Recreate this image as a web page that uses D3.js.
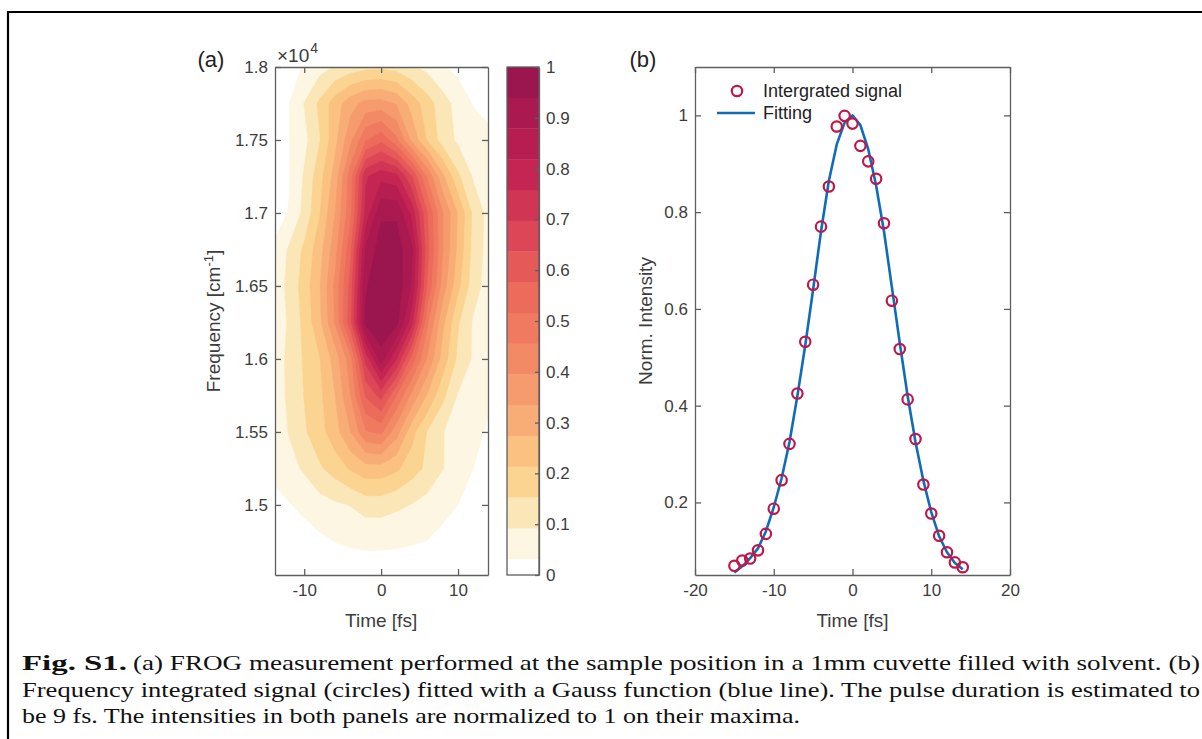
<!DOCTYPE html>
<html><head><meta charset="utf-8">
<script src="https://cdn.jsdelivr.net/npm/d3@7"></script>
<style>
body{margin:0;background:#fff}
svg{display:block}
.sans{font-family:'Liberation Sans',Arial,Helvetica,sans-serif}
.serif{font-family:'Liberation Serif','Times New Roman',serif}
</style>
</head><body>
<svg id="chart" width="1202" height="739"></svg>
<script>
// ---------------- DATA ----------------
// Panel (a): FROG trace, read on a coarse grid (time columns x frequency rows)
const frogTimes = [-14,-12,-10,-8,-6,-4,-2,0,2,4,6,8,10,12,14];           // fs
const frogFreqs = [18000,17750,17500,17250,17000,16750,16500,16250,16000,15750,15500,15250,15000,14750,14500]; // cm^-1
const row18000 = [0.0,0.015,0.036,0.07,0.098,0.12,0.135,0.14,0.13,0.10,0.075,0.038,0.015,0.005,0.0];
const row17750 = [0.005,0.03,0.095,0.165,0.245,0.31,0.355,0.36,0.33,0.25,0.18,0.12,0.07,0.028,0.01];
const row17500 = [0.01,0.03,0.075,0.15,0.255,0.38,0.51,0.56,0.47,0.32,0.21,0.125,0.082,0.065,0.05];
const row17250 = [0.01,0.028,0.10,0.19,0.30,0.49,0.75,0.80,0.78,0.64,0.45,0.29,0.165,0.085,0.05];
const row17000 = [0.005,0.035,0.11,0.21,0.335,0.50,0.78,0.93,0.93,0.80,0.58,0.40,0.27,0.14,0.07];
const row16750 = [0.04,0.10,0.165,0.25,0.37,0.56,0.89,0.97,0.97,0.89,0.60,0.40,0.26,0.13,0.07];
const row16500 = [0.05,0.11,0.18,0.27,0.41,0.60,0.93,1.0,0.98,0.87,0.57,0.37,0.23,0.12,0.065];
const row16250 = [0.05,0.10,0.17,0.26,0.40,0.62,0.96,0.99,0.96,0.78,0.47,0.29,0.16,0.085,0.05];
const row16000 = [0.05,0.11,0.16,0.21,0.30,0.43,0.72,0.91,0.76,0.55,0.39,0.25,0.14,0.085,0.05];
const row15750 = [0.04,0.11,0.155,0.20,0.274,0.395,0.585,0.66,0.516,0.38,0.27,0.17,0.088,0.06,0.04];
const row15500 = [0.06,0.095,0.145,0.19,0.25,0.334,0.45,0.47,0.36,0.235,0.15,0.095,0.07,0.047,0.025];
const row15250 = [0.05,0.075,0.10,0.145,0.18,0.22,0.25,0.25,0.225,0.18,0.14,0.095,0.065,0.032,0.01];
const row15000 = [0.01,0.028,0.05,0.068,0.083,0.095,0.12,0.12,0.105,0.09,0.07,0.05,0.032,0.005,0.0];
const row14750 = [0.0,0.0,0.0,0.02,0.033,0.038,0.04,0.04,0.039,0.036,0.031,0.015,0.0,0.0,0.0];
const row14500 = [0.0,0.0,0.0,0.0,0.0,0.005,0.008,0.008,0.005,0.0,0.0,0.0,0.0,0.0,0.0];
const frogRows = [row18000,row17750,row17500,row17250,row17000,row16750,row16500,row16250,
                  row16000,row15750,row15500,row15250,row15000,row14750,row14500];

// contour levels (filled contours) and colormap bands (band 0 = below first level)
const contourLevels = [0.032,0.0925,0.153,0.2135,0.274,0.3345,0.395,0.4555,0.516,0.5765,0.637,0.6975,0.758,0.8185,0.879,0.9395];
const bandColors = ['#ffffff','#fdf6e3','#fbe6b7','#fcd492','#fbc180','#f9ad76','#f69b6e','#f38a66',
                    '#f07a60','#ec6b5b','#e55a58','#dc4656','#d03654','#c42552','#b71d51','#aa1950','#9b154e'];

const aTimeTicks = [-10,0,10];
const aFreqTicks = [15000,15500,16000,16500,17000,17500,18000];
const cbTicks = [0,0.1,0.2,0.3,0.4,0.5,0.6,0.7,0.8,0.9,1];

// Panel (b)
const sigTimes  = [-15,-14,-13,-12,-11,-10,-9,-8,-7,-6,-5,-4,-3,-2,-1,0,1,2,3,4,5,6,7,8,9,10,11,12,13,14];
const sigValues = [0.069,0.080,0.084,0.101,0.135,0.187,0.246,0.321,0.425,0.532,0.650,0.770,0.853,0.977,0.999,
                   0.983,0.937,0.905,0.869,0.777,0.617,0.517,0.413,0.331,0.237,0.177,0.131,0.097,0.076,0.066];
const fitTimes  = [-15,-14,-13,-12,-11,-10,-9,-8,-7,-6,-5,-4,-3,-2,-1,0,1,2,3,4,5,6,7,8,9,10,11,12,13,14];
const fitValues = [0.055,0.068,0.085,0.105,0.14,0.19,0.25,0.325,0.42,0.525,0.64,0.76,0.865,0.94,0.985,
                   1.0,0.98,0.93,0.855,0.76,0.645,0.53,0.42,0.325,0.245,0.18,0.13,0.097,0.075,0.062];
const bTimeTicks = [-20,-10,0,10,20];
const bIntTicks = [0.2,0.4,0.6,0.8,1];

const captionLines = [
  "(a) FROG measurement performed at the sample position in a 1mm cuvette filled with solvent. (b)",
  "Frequency integrated signal (circles) fitted with a Gauss function (blue line). The pulse duration is estimated to",
  "be 9 fs. The intensities in both panels are normalized to 1 on their maxima."
];

// ---------------- DRAW ----------------
const svg = d3.select('#chart');
const AX = '#5f5f5f', TX = '#3d3d3d';

// outer frame
svg.append('path').attr('d','M8,739 L8,12 L1202,12').attr('fill','none').attr('stroke','#000').attr('stroke-width',2.2);

function styleAxis(g){
  g.selectAll('path').attr('stroke',AX).attr('stroke-width',1.3);
  g.selectAll('line').attr('stroke',AX).attr('stroke-width',1.3);
  g.selectAll('text').attr('fill',TX).attr('class','sans').style('font-size','17px');
}

// ---- Panel (a)
const aBox = {l:275,r:488,t:67,b:575};
const xA = d3.scaleLinear().domain([-13.8,13.9]).range([aBox.l,aBox.r]);
const yA = d3.scaleLinear().domain([14520,18000]).range([aBox.b,aBox.t]);

svg.append('clipPath').attr('id','clipA').append('rect')
  .attr('x',aBox.l).attr('y',aBox.t).attr('width',aBox.r-aBox.l).attr('height',aBox.b-aBox.t);

const nx = frogTimes.length, ny = frogFreqs.length;
const dt = frogTimes[1]-frogTimes[0], df = frogFreqs[0]-frogFreqs[1];
const values = [];
frogRows.forEach(r => r.forEach(v => values.push(v)));
const contours = d3.contours().size([nx,ny]).thresholds(contourLevels)(values);
const proj = d3.geoTransform({point:function(gx,gy){
  this.stream.point(xA(frogTimes[0] + (gx-0.5)*dt), yA(frogFreqs[0] - (gy-0.5)*df));
}});
const gpath = d3.geoPath(proj);
const gA = svg.append('g').attr('clip-path','url(#clipA)');
gA.append('rect').attr('x',aBox.l).attr('y',aBox.t).attr('width',aBox.r-aBox.l).attr('height',aBox.b-aBox.t).attr('fill',bandColors[0]);
gA.selectAll('path.ct').data(contours).join('path').attr('class','ct')
  .attr('d',gpath).attr('fill',(d,i)=>bandColors[i+1]).attr('stroke',(d,i)=>bandColors[i+1]).attr('stroke-width',0.3);

// axes (a)
const tick = 6;
const fmtNum = d => String(d);
let g;
g = svg.append('g').attr('transform',`translate(0,${aBox.b})`)
  .call(d3.axisBottom(xA).tickValues(aTimeTicks).tickSize(-tick).tickSizeOuter(0).tickPadding(9).tickFormat(fmtNum));
styleAxis(g);
g = svg.append('g').attr('transform',`translate(0,${aBox.t})`)
  .call(d3.axisTop(xA).tickValues(aTimeTicks).tickSize(-tick).tickSizeOuter(0).tickFormat(''));
styleAxis(g);
g = svg.append('g').attr('transform',`translate(${aBox.l},0)`)
  .call(d3.axisLeft(yA).tickValues(aFreqTicks).tickSize(-tick).tickSizeOuter(0).tickPadding(7).tickFormat(d=>String(d/1e4)));
styleAxis(g);
g = svg.append('g').attr('transform',`translate(${aBox.r},0)`)
  .call(d3.axisRight(yA).tickValues(aFreqTicks).tickSize(-tick).tickSizeOuter(0).tickFormat(''));
styleAxis(g);

// exponent label
const ex = svg.append('text').attr('class','sans').attr('x',277).attr('y',62).attr('fill',TX).style('font-size','19px');
ex.append('tspan').text('\u00d710');
ex.append('tspan').attr('dy',-9).attr('dx',1).style('font-size','14px').text('4');

svg.append('text').attr('class','sans').attr('x',xA(0)).attr('y',627).attr('text-anchor','middle')
  .attr('fill',TX).style('font-size','19px').text('Time [fs]');
const yl = svg.append('text').attr('class','sans').attr('transform','translate(220,321) rotate(-90)')
  .attr('text-anchor','middle').attr('fill',TX).style('font-size','19px');
yl.append('tspan').text('Frequency [cm');
yl.append('tspan').attr('dy',-7).style('font-size','13px').text('-1');
yl.append('tspan').attr('dy',7).text(']');

svg.append('text').attr('class','sans').attr('x',211).attr('y',67).attr('text-anchor','middle')
  .attr('fill','#222').style('font-size','22px').text('(a)');

// ---- Colorbar
const cbBox = {l:507,r:539,t:67,b:575};
const yC = d3.scaleLinear().domain([0,1]).range([cbBox.b,cbBox.t]);
const bandEdges = [0].concat(contourLevels).concat([1]);
svg.append('g').selectAll('rect').data(bandColors).join('rect')
  .attr('x',cbBox.l).attr('width',cbBox.r-cbBox.l)
  .attr('y',(c,i)=>yC(bandEdges[i+1])).attr('height',(c,i)=>yC(bandEdges[i])-yC(bandEdges[i+1])+0.3)
  .attr('fill',c=>c);
svg.append('rect').attr('x',cbBox.l).attr('y',cbBox.t).attr('width',cbBox.r-cbBox.l).attr('height',cbBox.b-cbBox.t)
  .attr('fill','none').attr('stroke',AX).attr('stroke-width',1.3);
g = svg.append('g').attr('transform',`translate(${cbBox.r},0)`)
  .call(d3.axisRight(yC).tickValues(cbTicks).tickSize(-4).tickSizeOuter(0).tickPadding(7).tickFormat(fmtNum));
styleAxis(g);

// ---- Panel (b)
const bBox = {l:695,r:1010,t:67,b:575};
const xB = d3.scaleLinear().domain([-20,20]).range([bBox.l,bBox.r]);
const yB = d3.scaleLinear().domain([0.05,1.1]).range([bBox.b,bBox.t]);
svg.append('clipPath').attr('id','clipB').append('rect')
  .attr('x',bBox.l).attr('y',bBox.t).attr('width',bBox.r-bBox.l).attr('height',bBox.b-bBox.t);

g = svg.append('g').attr('transform',`translate(0,${bBox.b})`)
  .call(d3.axisBottom(xB).tickValues(bTimeTicks).tickSize(-tick).tickSizeOuter(0).tickPadding(9).tickFormat(fmtNum));
styleAxis(g);
g = svg.append('g').attr('transform',`translate(0,${bBox.t})`)
  .call(d3.axisTop(xB).tickValues(bTimeTicks).tickSize(-tick).tickSizeOuter(0).tickFormat(''));
styleAxis(g);
g = svg.append('g').attr('transform',`translate(${bBox.l},0)`)
  .call(d3.axisLeft(yB).tickValues(bIntTicks).tickSize(-tick).tickSizeOuter(0).tickPadding(7).tickFormat(fmtNum));
styleAxis(g);
g = svg.append('g').attr('transform',`translate(${bBox.r},0)`)
  .call(d3.axisRight(yB).tickValues(bIntTicks).tickSize(-tick).tickSizeOuter(0).tickFormat(''));
styleAxis(g);

const gB = svg.append('g').attr('clip-path','url(#clipB)');
const fitPts = fitTimes.map((t,i)=>[t,fitValues[i]]);
gB.append('path').datum(fitPts)
  .attr('d',d3.line().x(d=>xB(d[0])).y(d=>yB(d[1])))
  .attr('fill','none').attr('stroke','#0f6db8').attr('stroke-width',2.6).attr('stroke-linejoin','round');
const sigPts = sigTimes.map((t,i)=>[t,sigValues[i]]);
svg.append('g').selectAll('circle').data(sigPts).join('circle')
  .attr('cx',d=>xB(d[0])).attr('cy',d=>yB(d[1])).attr('r',5.2)
  .attr('fill','none').attr('stroke','#c0174b').attr('stroke-width',2.2);

svg.append('text').attr('class','sans').attr('x',xB(0)).attr('y',627).attr('text-anchor','middle')
  .attr('fill',TX).style('font-size','19px').text('Time [fs]');
svg.append('text').attr('class','sans').attr('transform','translate(652,321) rotate(-90)')
  .attr('text-anchor','middle').attr('fill',TX).style('font-size','19px').text('Norm. Intensity');
svg.append('text').attr('class','sans').attr('x',643).attr('y',67).attr('text-anchor','middle')
  .attr('fill','#222').style('font-size','22px').text('(b)');

// legend
svg.append('circle').attr('cx',737).attr('cy',91).attr('r',5.2).attr('fill','none').attr('stroke','#c0174b').attr('stroke-width',2.2);
svg.append('text').attr('class','sans').attr('x',763).attr('y',97).attr('fill','#222').style('font-size','18px').text('Intergrated signal');
svg.append('line').attr('x1',717).attr('x2',755).attr('y1',113).attr('y2',113).attr('stroke','#0f6db8').attr('stroke-width',2.6);
svg.append('text').attr('class','sans').attr('x',763).attr('y',119).attr('fill','#222').style('font-size','18px').text('Fitting');

// ---- Caption
svg.append('text').attr('class','serif').attr('x',22).attr('y',670).attr('fill','#111')
  .style('font-size','22px').style('font-weight','bold')
  .attr('textLength',105).attr('lengthAdjust','spacingAndGlyphs').text('Fig. S1.');
svg.append('text').attr('class','serif').attr('x',133).attr('y',670).attr('fill','#111').style('font-size','22px')
  .attr('textLength',1067).attr('lengthAdjust','spacingAndGlyphs').text(captionLines[0]);
svg.append('text').attr('class','serif').attr('x',22).attr('y',697).attr('fill','#111').style('font-size','22px')
  .attr('textLength',1178).attr('lengthAdjust','spacingAndGlyphs').text(captionLines[1]);
svg.append('text').attr('class','serif').attr('x',22).attr('y',723).attr('fill','#111').style('font-size','22px')
  .attr('textLength',778).attr('lengthAdjust','spacingAndGlyphs').text(captionLines[2]);
</script>
</body></html>
